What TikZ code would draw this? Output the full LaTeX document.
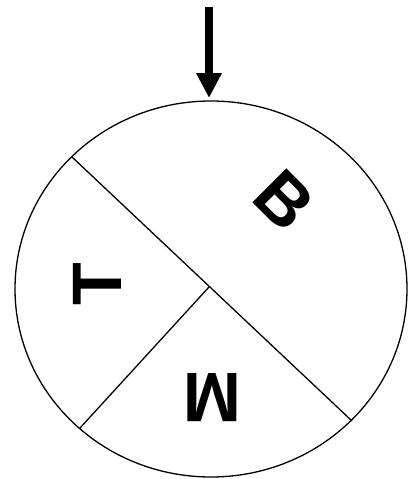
\documentclass[tikz,border=0pt]{standalone}
\usepackage{fontspec}
\setmainfont{Liberation Sans}
\usetikzlibrary{shapes.geometric,arrows.meta}
\tikzset{
  thinline/.style={line width=1.3pt, black},
  letter/.style={inner sep=0pt, font=\fontsize{70}{70}\selectfont\bfseries},
  feed/.style={line width=8pt, -{Triangle[width=24pt,length=25pt]}}
}
\begin{document}
\begin{tikzpicture}[x=1pt,y=-1pt]
\useasboundingbox (0,0) rectangle (409,479);
\node[draw, thinline, ellipse, minimum width=392pt, minimum height=376pt, inner sep=0pt] (disc) at (211,289) {};
\coordinate (p1) at (72,157);
\coordinate (p2) at (352,421);
\coordinate (hub) at (209,287);
\coordinate (p3) at (80,428);
\draw[thinline] (p1) -- (p2);
\draw[thinline] (hub) -- (p3);
\coordinate (src) at (209,7);
\coordinate (dst) at (209,98);
\draw[feed] (src) -- (dst);
\node[letter, rotate=-45] (lb) at (284,200) {B};
\node[letter, rotate=90] (lt) at (97,284) {T};
\node[letter, rotate=180] (lm) at (212,398) {M};
\end{tikzpicture}
\end{document}
